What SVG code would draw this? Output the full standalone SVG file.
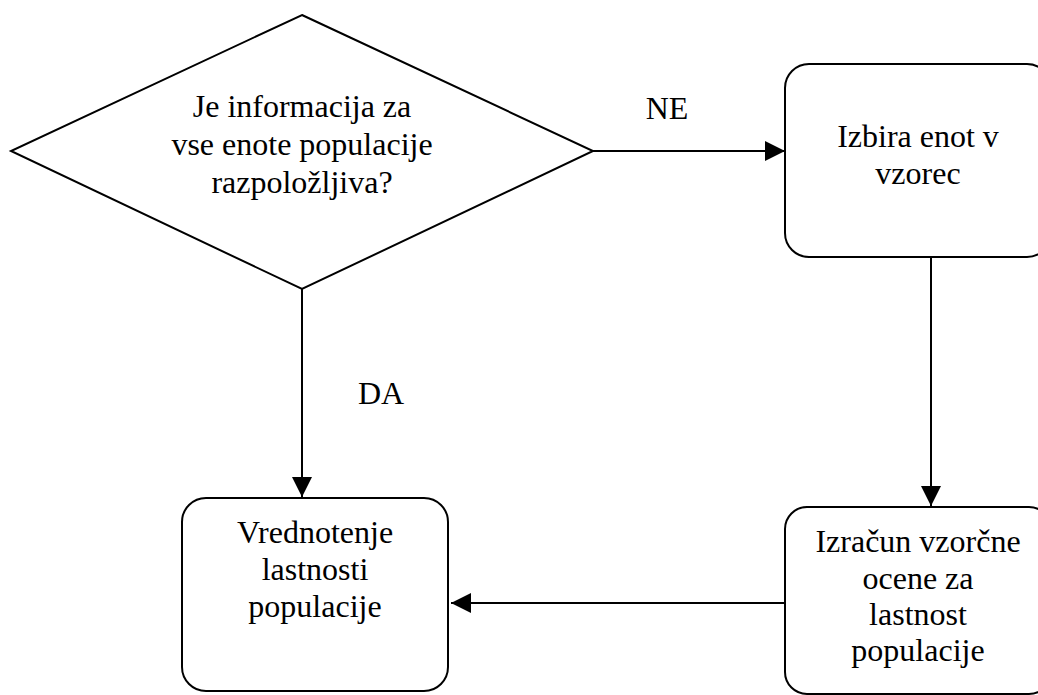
<svg xmlns="http://www.w3.org/2000/svg" width="1038" height="695" viewBox="0 0 1038 695">
<style>
.s{fill:#fff;stroke:#000;stroke-width:2}
.t{font-family:'Liberation Serif','DejaVu Serif',serif;font-size:32px;fill:#000;text-anchor:middle}
.c{stroke:#000;stroke-width:2;fill:none}
</style>
<defs>
<marker id="a" viewBox="0 0 20 20" refX="20" refY="10" markerWidth="20" markerHeight="20" markerUnits="userSpaceOnUse" orient="auto">
<path d="M0,0 L20,10 L0,20 Z" fill="#000"/>
</marker>
</defs>
<rect width="1038" height="695" fill="#fff"/>
<g id="connectors">
<line class="c" x1="593" y1="151" x2="785" y2="151" marker-end="url(#a)"/>
<line class="c" x1="302" y1="289" x2="302" y2="497" marker-end="url(#a)"/>
<line class="c" x1="931" y1="257" x2="931" y2="506" marker-end="url(#a)"/>
<line class="c" x1="785" y1="603" x2="451" y2="603" marker-end="url(#a)"/>
<text class="t" x="667" y="119">NE</text>
<text class="t" x="381" y="404">DA</text>
</g>
<g id="decision">
<polygon class="s" points="302,15 593,151 302,289 11,151"/>
<text class="t" x="302" y="117">Je informacija za</text>
<text class="t" x="302" y="155">vse enote populacije</text>
<text class="t" x="302" y="193">razpoložljiva?</text>
</g>
<g id="izbira">
<rect class="s" x="785" y="64" width="266" height="193" rx="24"/>
<text class="t" x="918" y="147">Izbira enot v</text>
<text class="t" x="918" y="184">vzorec</text>
</g>
<g id="vrednotenje">
<rect class="s" x="182" y="498" width="266" height="193" rx="24"/>
<text class="t" x="315" y="543">Vrednotenje</text>
<text class="t" x="315" y="580">lastnosti</text>
<text class="t" x="315" y="617">populacije</text>
</g>
<g id="izracun">
<rect class="s" x="785" y="507" width="266" height="187" rx="22"/>
<text class="t" x="918" y="552">Izračun vzorčne</text>
<text class="t" x="918" y="589">ocene za</text>
<text class="t" x="918" y="625">lastnost</text>
<text class="t" x="918" y="661">populacije</text>
</g>
</svg>
